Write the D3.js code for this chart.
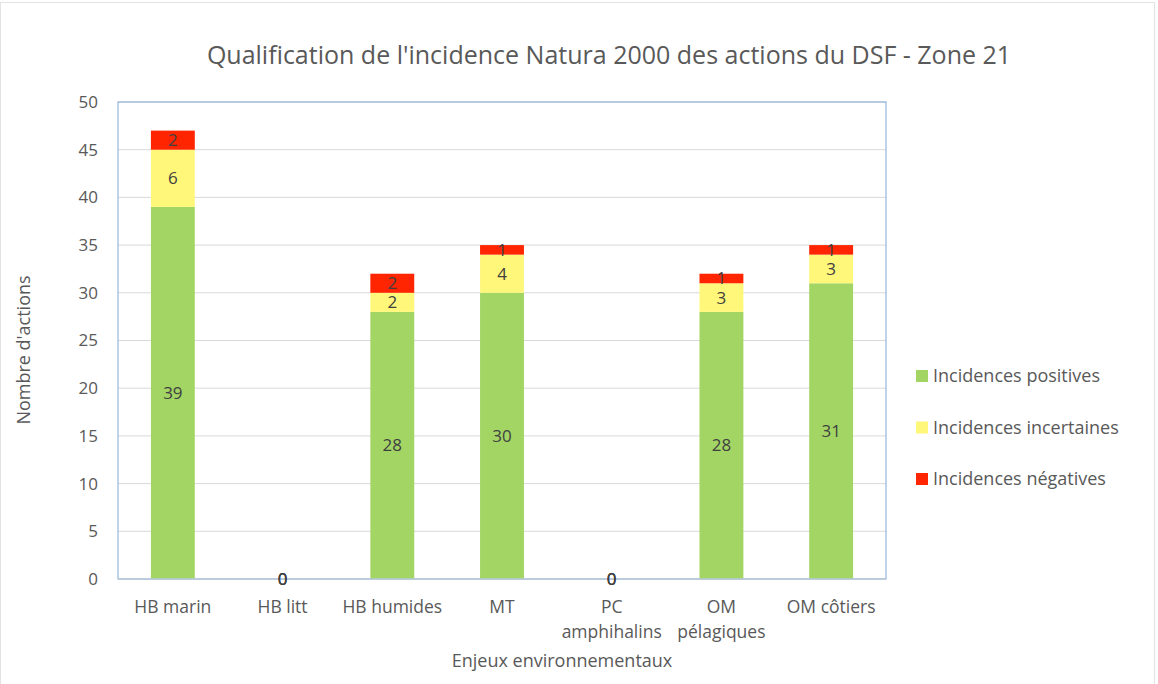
<!DOCTYPE html>
<html>
<head>
<meta charset="utf-8">
<script src="https://cdn.jsdelivr.net/npm/d3@7"></script>
<style>
  body { margin: 0; background: #fff; }
  text { font-family: "Open Sans", "Liberation Sans", sans-serif; fill: #595959; }
</style>
</head>
<body>
<div id="chart"></div>
<script>
// data
var categories = ["HB marin", "HB litt", "HB humides", "MT", "PC amphihalins", "OM pélagiques", "OM côtiers"];
var catLines = [["HB marin"], ["HB litt"], ["HB humides"], ["MT"], ["PC", "amphihalins"], ["OM", "pélagiques"], ["OM côtiers"]];
var positives = [39, 0, 28, 30, 0, 28, 31];
var incertaines = [6, 0, 2, 4, 0, 3, 3];
var negatives = [2, 0, 2, 1, 0, 1, 1];
var seriesNames = ["Incidences positives", "Incidences incertaines", "Incidences négatives"];
var colors = ["#a3d565", "#fff77a", "#ff2500"];
var yTicks = [0, 5, 10, 15, 20, 25, 30, 35, 40, 45, 50];

var W = 1158, H = 684;
var margin = {top: 102, right: 272, bottom: 105, left: 118},
    width = W - margin.left - margin.right,
    height = H - margin.top - margin.bottom;

var svg = d3.select("#chart").append("svg")
    .attr("width", W).attr("height", H);

// outer chart border
svg.append("rect")
  .attr("x", 0.5).attr("y", 2.5).attr("width", W - 4).attr("height", H + 10)
  .attr("fill", "none").attr("stroke", "#e3e3e3");

var g = svg.append("g")
    .attr("transform", "translate(" + margin.left + "," + margin.top + ")");

var x = d3.scaleBand().domain(categories).range([0, width]).paddingInner(0.6).paddingOuter(0.3);
var y = d3.scaleLinear().domain([0, 50]).range([height, 0]);

// gridlines
g.selectAll(".grid").data(yTicks.slice(1)).enter().append("line")
  .attr("x1", 0).attr("x2", width)
  .attr("y1", function(d) { return y(d); }).attr("y2", function(d) { return y(d); })
  .attr("stroke", "#d9d9d9").attr("stroke-width", 1);

// plot area border
g.append("rect").attr("x", 0).attr("y", 0).attr("width", width).attr("height", height)
  .attr("fill", "none").attr("stroke", "#7fa9d8").attr("stroke-width", 1);

// stacked data
var rows = categories.map(function(c, i) {
  return {cat: c, positives: positives[i], incertaines: incertaines[i], negatives: negatives[i]};
});
var stack = d3.stack().keys(["positives", "incertaines", "negatives"]);
var layers = stack(rows);

layers.forEach(function(layer, li) {
  g.selectAll(".bar" + li).data(layer).enter().append("rect")
    .attr("x", function(d) { return x(d.data.cat); })
    .attr("width", x.bandwidth())
    .attr("y", function(d) { return y(d[1]); })
    .attr("height", function(d) { return y(d[0]) - y(d[1]); })
    .attr("fill", colors[li]);
});

// bottom axis line
g.append("line").attr("x1", 0).attr("x2", width).attr("y1", height).attr("y2", height)
  .attr("stroke", "#b9c8d9").attr("stroke-width", 1.5);

// value labels (centered in each segment, as in the original)
layers.forEach(function(layer, li) {
  g.selectAll(".lab" + li).data(layer).enter().append("text")
    .attr("x", function(d) { return x(d.data.cat) + x.bandwidth() / 2; })
    .attr("y", function(d) { return (y(d[0]) + y(d[1])) / 2; })
    .attr("dy", "0.35em")
    .attr("text-anchor", "middle")
    .style("font-size", "17px")
    .style("fill", "#404040")
    .text(function(d) { return d[1] - d[0]; });
});

// y axis
var yAxis = g.append("g").call(d3.axisLeft(y).tickValues(yTicks).tickSize(0).tickPadding(20));
yAxis.select(".domain").remove();
yAxis.selectAll("text").style("font-size", "17px").style("fill", "#595959");

// x labels
var xl = g.selectAll(".xlab").data(categories).enter().append("text")
  .attr("x", function(d) { return x(d) + x.bandwidth() / 2; })
  .attr("y", height + 34)
  .attr("text-anchor", "middle")
  .style("font-size", "17.5px");
xl.each(function(d, i) {
  var t = d3.select(this);
  catLines[i].forEach(function(line, k) {
    t.append("tspan").attr("x", x(d) + x.bandwidth() / 2).attr("dy", k === 0 ? 0 : 25).text(line);
  });
});

// axis titles
svg.append("text").attr("x", 562).attr("y", 667)
  .attr("text-anchor", "middle").style("font-size", "18px").text("Enjeux environnementaux");
svg.append("text").attr("transform", "translate(30,350) rotate(-90)")
  .attr("text-anchor", "middle").style("font-size", "18px").text("Nombre  d'actions");

// title
svg.append("text").attr("x", 609).attr("y", 64)
  .attr("text-anchor", "middle").style("font-size", "25px").text("Qualification de l'incidence Natura 2000 des actions du DSF - Zone 21");

// legend
var leg = svg.selectAll(".leg").data(seriesNames).enter().append("g")
  .attr("transform", function(d, i) { return "translate(916," + (376 + i * 51.5) + ")"; });
leg.append("rect").attr("x", 0).attr("y", -6).attr("width", 12).attr("height", 12)
  .attr("fill", function(d, i) { return colors[i]; });
leg.append("text").attr("x", 17).attr("dy", "0.35em").style("font-size", "18px")
  .text(function(d) { return d; });
</script>
</body>
</html>
